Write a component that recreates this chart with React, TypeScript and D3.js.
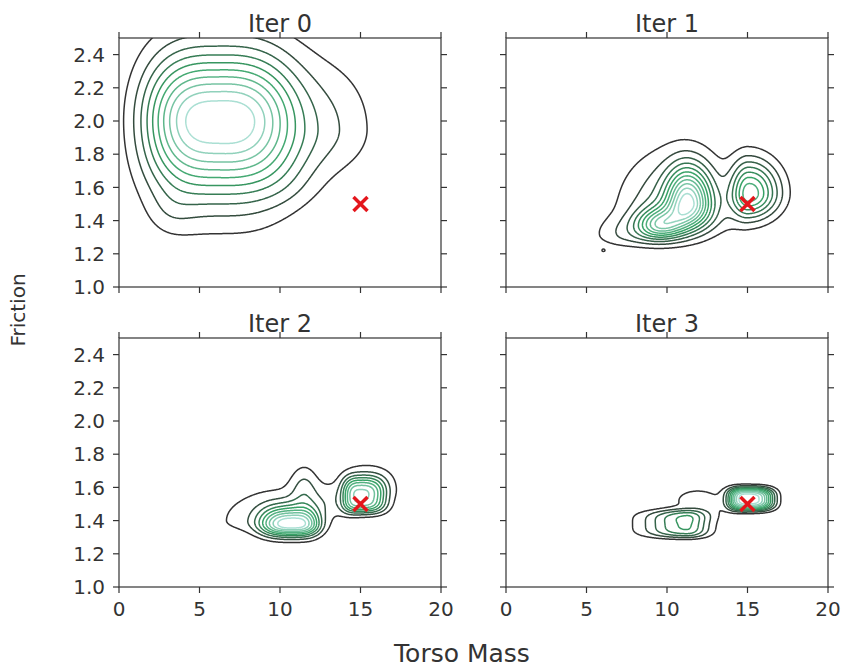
import React, { useMemo } from 'react';
import * as d3 from 'd3';

const panelTitles = ['Iter 0', 'Iter 1', 'Iter 2', 'Iter 3'];
const xTickValues = [0, 5, 10, 15, 20];
const yTickValues = [1.0, 1.2, 1.4, 1.6, 1.8, 2.0, 2.2, 2.4];
const xDomain = [0, 20];
const yDomain = [1.0, 2.5];
const trueParams = [15, 1.5]; // torso mass, friction
const levelCounts = [10, 11, 9, 10];

// density blobs:
// [cx, cy, sxLeft, sxRight, syDown, syUp, powX, powY, weight]
const iter0Blobs = [
  [6.1, 2.0, 3.45, 3.6, 0.31, 0.28, 3, 2, 1.0],
  [12.4, 1.95, 2.2, 2.4, 0.2, 0.3, 2, 2, 0.2],
  [10.8, 1.62, 1.5, 1.5, 0.12, 0.15, 2, 2, 0.06],
  [3.2, 1.45, 1.0, 1.0, 0.1, 0.1, 2, 2, 0.05],
];
const iter1Blobs = [
  [11.3, 1.51, 0.9, 1.0, 0.1, 0.15, 2, 2, 0.85],
  [9.6, 1.37, 1.0, 1.0, 0.06, 0.07, 2, 2, 0.6],
  [10.3, 1.44, 2.2, 2.4, 0.1, 0.25, 2, 2, 0.33],
  [7.4, 1.31, 1.4, 1.5, 0.05, 0.07, 2, 2, 0.15],
  [15.05, 1.56, 0.75, 1.2, 0.1, 0.14, 2, 2, 0.62],
  [15.8, 1.58, 1.0, 1.2, 0.1, 0.12, 2, 2, 0.12],
  [6.05, 1.22, 0.12, 0.12, 0.01, 0.01, 2, 2, 0.1],
];
const iter2Blobs = [
  [10.9, 1.375, 1.6, 1.2, 0.05, 0.07, 3, 2, 0.9],
  [10.2, 1.4, 2.8, 1.8, 0.06, 0.14, 2, 2, 0.25],
  [11.5, 1.6, 0.6, 0.6, 0.1, 0.1, 2, 2, 0.2],
  [15.0, 1.535, 0.85, 1.2, 0.07, 0.1, 3, 3, 0.8],
  [15.4, 1.6, 1.3, 1.7, 0.09, 0.14, 2, 2, 0.15],
  [13.2, 1.52, 1.0, 1.0, 0.07, 0.08, 2, 2, 0.12],
];
const iter3Blobs = [
  [15.05, 1.53, 0.95, 1.2, 0.052, 0.053, 3, 3, 1.0],
  [11.2, 1.38, 1.85, 1.0, 0.07, 0.07, 2, 4, 0.47],
  [11.9, 1.52, 1.4, 1.5, 0.07, 0.07, 2, 2, 0.13],
];
const panelBlobs = [iter0Blobs, iter1Blobs, iter2Blobs, iter3Blobs];

// seaborn BuGn_d
const kdeColors = ['#333333', '#37a266', '#aadfd3'];

const panelLeft = [119, 506];
const panelTop = [38, 338];
const pw = 322;
const ph = 249;
const axisColor = '#333333';
const font = '"DejaVu Sans", sans-serif';

const gx0 = -1, gx1 = 21, gy0 = 0.9, gy1 = 2.6;
const dx = 0.05, dy = 0.004;
const nx = Math.round((gx1 - gx0) / dx) + 1;
const ny = Math.round((gy1 - gy0) / dy) + 1;

function density(blobs: number[][], x: number, y: number) {
  let s = 0;
  for (const b of blobs) {
    const [cx, cy, sl, sr, sd, su, px, py, w] = b;
    const u = Math.abs(x - cx) / (x < cx ? sl : sr);
    const v = Math.abs(y - cy) / (y < cy ? sd : su);
    s += w * Math.exp(-0.5 * (Math.pow(u, px) + Math.pow(v, py)));
  }
  return s;
}

function Panel({ idx }: { idx: number }) {
  const col = idx % 2;
  const row = Math.floor(idx / 2);
  const left = panelLeft[col];
  const top = panelTop[row];
  const x = d3.scaleLinear().domain(xDomain).range([left, left + pw]);
  const y = d3.scaleLinear().domain(yDomain).range([top + ph, top]);

  const paths = useMemo(() => {
    const blobs = panelBlobs[idx];
    const values = new Float64Array(nx * ny);
    for (let j = 0; j < ny; j++) {
      const yy = gy0 + j * dy;
      for (let i = 0; i < nx; i++) {
        values[j * nx + i] = density(blobs, gx0 + i * dx, yy);
      }
    }
    const max = d3.max(values) as number;
    const n = levelCounts[idx];
    const levels = d3.range(1, n + 1).map(k => (k * max) / (n + 1));
    const color = d3.piecewise(d3.interpolateRgb, kdeColors);
    const cs = d3.contours().size([nx, ny]).thresholds(levels)(Array.from(values));
    const proj = d3.geoTransform({
      point(px: number, py: number) {
        this.stream.point(x(gx0 + (px - 0.5) * dx), y(gy0 + (py - 0.5) * dy));
      },
    });
    const gp = d3.geoPath(proj);
    return cs.map((c, k) => ({ d: gp(c as any) || '', stroke: color(n > 1 ? k / (n - 1) : 0) }));
  }, [idx]);

  const clipId = `clip-${idx}`;
  const tk = 6;
  const mx = x(trueParams[0]);
  const my = y(trueParams[1]);
  return (
    <g>
      <defs>
        <clipPath id={clipId}>
          <rect x={left} y={top} width={pw} height={ph} />
        </clipPath>
      </defs>
      <g clipPath={`url(#${clipId})`}>
        {paths.map((p, k) => (
          <path key={k} d={p.d} fill="none" stroke={p.stroke} strokeWidth={1.5} />
        ))}
        <path d={`M${mx - 7},${my - 7}L${mx + 7},${my + 7}M${mx - 7},${my + 7}L${mx + 7},${my - 7}`}
          stroke="#e4161c" strokeWidth={3.5} fill="none" />
      </g>
      <rect x={left} y={top} width={pw} height={ph} fill="none" stroke={axisColor} strokeWidth={1.2} />
      {xTickValues.map(v => (
        <g key={'xt' + v}>
          <line x1={x(v)} x2={x(v)} y1={top + ph} y2={top + ph + tk} stroke={axisColor} strokeWidth={1.2} />
          <line x1={x(v)} x2={x(v)} y1={top} y2={top - tk} stroke={axisColor} strokeWidth={1.2} />
          {row === 1 && (
            <text x={x(v)} y={top + ph + 29} textAnchor="middle" fontSize={20} fill={axisColor} fontFamily={font}>{v}</text>
          )}
        </g>
      ))}
      {yTickValues.map(v => (
        <g key={'yt' + v}>
          <line x1={left} x2={left - tk} y1={y(v)} y2={y(v)} stroke={axisColor} strokeWidth={1.2} />
          <line x1={left + pw} x2={left + pw + tk} y1={y(v)} y2={y(v)} stroke={axisColor} strokeWidth={1.2} />
          {col === 0 && (
            <text x={left - 14} y={y(v)} dy="0.36em" textAnchor="end" fontSize={20} fill={axisColor} fontFamily={font}>{v.toFixed(1)}</text>
          )}
        </g>
      ))}
      <text x={left + pw / 2} y={top - 6} textAnchor="middle" fontSize={24} fill={axisColor} fontFamily={font}>{panelTitles[idx]}</text>
    </g>
  );
}

export default function App() {
  return (
    <svg width={841} height={669} style={{ display: 'block', position: 'absolute', left: 0, top: 0, background: '#fff' }}>
      <rect width={841} height={669} fill="#fff" />
      {[0, 1, 2, 3].map(i => <Panel key={i} idx={i} />)}
      <text x={462} y={662} textAnchor="middle" fontSize={25} fill={axisColor} fontFamily={font}>Torso Mass</text>
      <text transform="translate(25,310) rotate(-90)" textAnchor="middle" fontSize={20} fill={axisColor} fontFamily={font}>Friction</text>
    </svg>
  );
}
